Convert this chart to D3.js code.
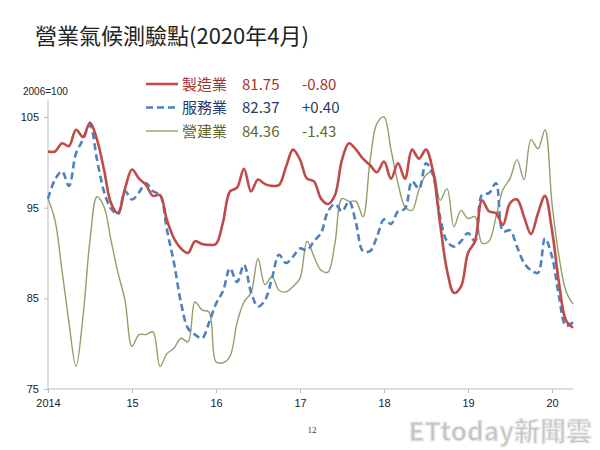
<html>
<head>
  <meta charset="utf-8">
  <title>營業氣候測驗點</title>
  <script src="https://d3js.org/d3.v7.min.js"></script>
  <style>
    body { margin: 0; background: #fff; }
  </style>
</head>
<body>
<script>
    // monthly data, 2014/01 .. 2020/04
    var manufacturing = [101.2,101.2,102.1,101.8,103.6,102.8,104.4,102.5,99.2,95.5,94.4,97.1,
        99.2,98.2,97.5,96.3,96.4,93.6,91.6,90.5,90.0,91.3,91.0,90.9,
        91.0,93.4,96.8,97.2,99.3,96.8,98.1,97.6,97.4,97.5,99.5,101.4,
        100.3,98.2,97.9,96.0,95.4,96.4,100.3,102.1,101.4,100.4,99.7,98.9,
        100.1,98.2,99.9,98.2,101.4,100.4,101.4,99.0,93.3,88.1,85.6,86.3,
        90.0,91.3,95.8,94.6,94.4,93.1,95.5,95.9,94.0,92.1,94.4,96.3,
        92.5,86.7,82.55,81.75];
    var services = [96.0,98.1,99.0,97.4,101.0,102.5,104.1,100.3,96.8,94.9,94.3,96.8,
        95.9,96.7,97.7,96.8,96.4,92.5,88.9,84.5,81.7,81.0,80.6,82.3,
        84.4,85.8,88.3,86.8,88.7,85.7,84.1,84.8,87.2,89.8,88.9,89.6,
        90.5,90.3,91.3,92.2,94.6,95.4,94.6,95.7,93.3,90.2,90.2,91.8,
        93.7,93.2,94.6,94.9,97.9,97.1,99.9,98.6,94.0,91.3,90.7,91.3,
        92.2,91.3,96.4,96.6,97.7,92.4,92.5,90.7,88.9,88.1,87.8,91.6,
        89.6,85.2,81.97,82.37];
    var construction = [96.0,93.6,88.1,82.3,77.5,83.0,91.4,96.2,95.1,91.4,87.8,84.8,
        79.7,81.0,81.0,81.3,77.5,78.9,79.5,80.6,80.2,84.6,83.7,83.5,
        78.0,77.9,78.6,82.3,84.6,85.6,89.4,86.5,87.4,85.9,85.7,86.3,
        87.2,91.3,89.6,88.1,87.9,91.1,96.0,95.7,95.7,94.0,100.1,104.3,
        105.0,101.4,97.7,95.1,94.7,97.0,98.6,99.0,95.8,97.1,92.9,94.7,
        93.8,94.0,91.1,91.3,94.0,97.0,98.2,100.3,98.1,102.5,101.5,103.6,
        95.5,89.6,85.79,84.36];

    var seriesNames = ['製造業', '服務業', '營建業'];
    var latest = ['81.75', '82.37', '84.36'];
    var change = ['-0.80', '+0.40', '-1.43'];
    var yTicks = [75, 85, 95, 105];
    var xTickLabels = ['2014', '15', '16', '17', '18', '19', '20'];

    var width = 600, height = 450;
    var font = '"Noto Sans CJK TC", "Noto Sans", sans-serif';

    var svg = d3.select('body').append('svg')
        .attr('width', width)
        .attr('height', height);

    // title
    svg.append('text')
        .attr('x', 35).attr('y', 44)
        .attr('font-family', font)
        .attr('font-size', 22)
        .attr('fill', '#222')
        .text('營業氣候測驗點(2020年4月)');

    svg.append('text')
        .attr('x', 23).attr('y', 95)
        .attr('font-family', 'Liberation Sans, Arial, sans-serif')
        .attr('font-size', 10)
        .attr('fill', '#222')
        .text('2006=100');

    var x = d3.scaleLinear().domain([0, 84]).range([48, 552 + 84]);
    var y = d3.scaleLinear().domain([75, 105]).range([389, 117]);

    // y axis
    var yAxis = svg.append('g')
        .attr('transform', 'translate(48,0)')
        .call(d3.axisLeft(y).tickValues(yTicks).tickSize(4).tickPadding(5));
    yAxis.select('.domain').attr('d', 'M0,100V389').attr('stroke', '#bbb');

    // x axis
    var xAxis = svg.append('g')
        .attr('transform', 'translate(0,389)')
        .call(d3.axisBottom(x).tickValues(d3.range(0, 84, 12))
            .tickFormat(function(d, i) { return xTickLabels[i]; })
            .tickSize(4).tickPadding(6));
    xAxis.select('.domain').attr('d', 'M48,0H573').attr('stroke', '#bbb');

    svg.selectAll('.tick line').attr('stroke', '#bbb');
    svg.selectAll('.tick text')
        .attr('font-family', 'Liberation Sans, Arial, sans-serif')
        .attr('font-size', 11)
        .attr('fill', '#222');

    var line = d3.line()
        .x(function(d, i) { return x(i); })
        .y(function(d) { return y(d); })
        .curve(d3.curveCatmullRom.alpha(0.5));

    var styles = [
        {stroke: '#bf4b48', width: 2.6, dash: null, text: '#a8302d'},
        {stroke: '#4f81bd', width: 2.6, dash: '7,4', text: '#1f3a68'},
        {stroke: '#929f6a', width: 1.4, dash: null, text: '#5c6b2d'}
    ];
    var allSeries = [manufacturing, services, construction];

    // draw green first, then blue, then red on top
    [2, 1, 0].forEach(function(k) {
        svg.append('path')
            .datum(allSeries[k])
            .attr('fill', 'none')
            .attr('stroke', styles[k].stroke)
            .attr('stroke-width', styles[k].width)
            .attr('stroke-dasharray', styles[k].dash)
            .attr('d', line);
    });

    // legend
    var legend = svg.append('g');
    seriesNames.forEach(function(name, k) {
        var ly = 84 + k * 23.5;
        legend.append('line')
            .attr('x1', 146).attr('x2', 178)
            .attr('y1', ly).attr('y2', ly)
            .attr('stroke', styles[k].stroke)
            .attr('stroke-width', k == 2 ? 1.4 : 2.6)
            .attr('stroke-dasharray', styles[k].dash);
        var row = [[182, name], [242, latest[k]], [302, change[k]]];
        row.forEach(function(r) {
            legend.append('text')
                .attr('x', r[0]).attr('y', ly + 5.5)
                .attr('font-family', font)
                .attr('font-size', 15)
                .attr('fill', styles[k].text)
                .text(r[1]);
        });
    });

    // page number
    svg.append('text')
        .attr('x', 312).attr('y', 433)
        .attr('text-anchor', 'middle')
        .attr('font-family', 'Liberation Serif, serif')
        .attr('font-size', 9)
        .attr('fill', '#333')
        .text('12');

    // watermark
    svg.append('text')
        .attr('x', 592).attr('y', 441)
        .attr('text-anchor', 'end')
        .attr('font-family', font)
        .attr('font-weight', 'bold')
        .attr('font-size', 26)
        .attr('fill', '#c4c4c4')
        .attr('stroke', '#eee')
        .attr('stroke-width', 1)
        .text('ETtoday新聞雲');
</script>
</body>
</html>
